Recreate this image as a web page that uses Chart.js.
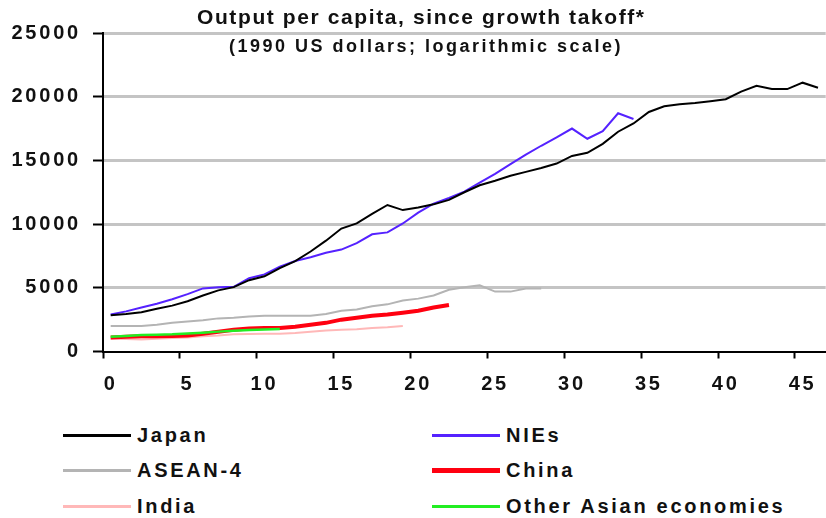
<!DOCTYPE html>
<html>
<head>
<meta charset="utf-8">
<script src="https://cdn.jsdelivr.net/npm/chart.js@4/dist/chart.umd.min.js"></script>
<style>
  html, body { margin: 0; padding: 0; background: #fff; overflow: hidden; width: 826px; height: 518px; }
  #wrap { position: absolute; left: 0; top: 0; width: 832px; height: 400px; }
  .ttl { position: absolute; white-space: nowrap; font-family: "Liberation Sans", Arial, sans-serif; font-weight: bold; color: #111; }
  #title { left: 197px; top: 5px; font-size: 21px; letter-spacing: 1.6px; line-height: 24px; }
  #subtitle { left: 229px; top: 36px; font-size: 18px; letter-spacing: 2.5px; line-height: 20px; }
  .lg { position: absolute; height: 20px; }
  .lg .sw { position: absolute; left: 0; width: 68px; }
  .lg .tx { position: absolute; left: 74px; top: 0; white-space: nowrap; font-family: "Liberation Sans", Arial, sans-serif; font-weight: bold; font-size: 20px; letter-spacing: 2.7px; line-height: 20px; color: #111; }
</style>
</head>
<body>
<div id="wrap"><canvas id="c" width="832" height="400"></canvas></div>
<div id="title" class="ttl">Output per capita, since growth takoff*</div>
<div id="subtitle" class="ttl">(1990 US dollars; logarithmic scale)</div>
<div id="legend"></div>
<script>
// Years since growth takeoff
const categories = ['0','1','2','3','4','5','6','7','8','9','10','11','12','13','14','15','16','17','18','19','20','21','22','23','24','25','26','27','28','29','30','31','32','33','34','35','36','37','38','39','40','41','42','43','44','45','46'];

// Output per capita, 1990 US dollars
const japan = [2850, 2950, 3080, 3350, 3600, 3950, 4400, 4800, 5050, 5600, 5900, 6550, 7100, 7850, 8700, 9650, 10050, 10800, 11500, 11100, 11300, 11550, 11900, 12500, 13050, 13400, 13800, 14100, 14400, 14750, 15350, 15600, 16300, 17250, 17900, 18800, 19250, 19400, 19500, 19650, 19800, 20400, 20850, 20600, 20600, 21100, 20700];
const nies = [2900, 3150, 3450, 3750, 4100, 4500, 4950, 5050, 5080, 5750, 6050, 6650, 7100, 7400, 7750, 8000, 8500, 9200, 9350, 10050, 10900, 11600, 12050, 12550, 13250, 13950, 14700, 15450, 16150, 16800, 17500, 16700, 17300, 18700, 18250];
const asean4 = [2000, 2000, 2000, 2100, 2250, 2350, 2450, 2600, 2650, 2750, 2800, 2800, 2800, 2800, 2950, 3200, 3300, 3550, 3700, 4000, 4150, 4400, 4850, 5050, 5200, 4700, 4700, 4950, 4950];
const china = [1100, 1150, 1200, 1200, 1220, 1250, 1400, 1550, 1700, 1800, 1850, 1850, 1950, 2100, 2250, 2500, 2650, 2800, 2900, 3050, 3200, 3450, 3650];
const india = [1000, 980, 950, 1000, 1050, 1100, 1200, 1250, 1350, 1380, 1400, 1400, 1450, 1550, 1650, 1700, 1750, 1850, 1900, 2000];
const otherAsian = [1150, 1220, 1300, 1320, 1350, 1420, 1480, 1560, 1620, 1680, 1730, 1770];

const seriesNames = ['Japan', 'NIEs', 'ASEAN-4', 'China', 'India', 'Other Asian economies'];
const xTickLabels = ['0','5','10','15','20','25','30','35','40','45'];
const yTicks = [0, 5000, 10000, 15000, 20000, 25000];

const styles = [
  { color: '#000000', width: 2, legendWidth: 3, order: 1 },
  { color: '#5522ff', width: 2, legendWidth: 3, order: 2 },
  { color: '#b4b4b4', width: 2, legendWidth: 3, order: 3 },
  { color: '#ff0010', width: 4, legendWidth: 5, order: 4 },
  { color: '#ffb8b8', width: 2, legendWidth: 3, order: 5 },
  { color: '#22ee22', width: 2.5, legendWidth: 3, order: 0 }
];
const seriesData = [japan, nies, asean4, china, india, otherAsian];

const spacingPlugin = {
  id: 'spacing',
  beforeLayout(chart) { chart.ctx.letterSpacing = '2.8px'; },
  beforeDraw(chart) { chart.ctx.letterSpacing = '2.8px'; }
};

const tickFont = { family: '"Liberation Sans", Arial, sans-serif', size: 20, weight: 'bold' };

const chart = new Chart(document.getElementById('c'), {
  type: 'line',
  data: {
    labels: categories,
    datasets: seriesData.map((d, i) => ({
      label: seriesNames[i],
      data: d,
      order: styles[i].order,
      borderColor: styles[i].color,
      backgroundColor: styles[i].color,
      borderWidth: styles[i].width,
      pointRadius: 0,
      tension: 0,
      fill: false
    }))
  },
  options: {
    responsive: false,
    animation: false,
    devicePixelRatio: 1,
    layout: { padding: { top: 33, left: 10, right: 0, bottom: 0 } },
    plugins: { legend: { display: false }, title: { display: false }, tooltip: { enabled: false } },
    scales: {
      x: {
        type: 'category',
        offset: true,
        afterFit(s) { s.height = 48.5; },
        grid: {
          offset: true,
          drawOnChartArea: false,
          drawTicks: true,
          tickLength: 7,
          tickWidth: 2,
          tickColor: (ctx) => (ctx.index !== undefined && ctx.index % 5 === 0) ? '#000' : 'rgba(0,0,0,0)'
        },
        border: { color: '#000', width: 2 },
        ticks: {
          autoSkip: false,
          maxRotation: 0,
          padding: 14,
          color: '#111',
          font: tickFont,
          callback(value, index) {
            const lab = categories[index];
            return xTickLabels.includes(lab) ? lab : '';
          }
        }
      },
      y: {
        min: yTicks[0],
        max: yTicks[yTicks.length - 1],
        afterFit(s) { s.width = 93; },
        afterBuildTicks(s) { s.ticks = yTicks.map(v => ({ value: v })); },
        grid: {
          color: (ctx) => (ctx.tick && ctx.tick.value === 0) ? 'rgba(0,0,0,0)' : '#c4c4c4',
          lineWidth: 3,
          tickLength: 10,
          tickColor: '#000',
          tickWidth: 2
        },
        border: { color: '#000', width: 2 },
        ticks: {
          padding: 12,
          color: '#111',
          font: tickFont,
          callback(v) { return String(v); }
        }
      }
    }
  },
  plugins: [spacingPlugin]
});

// HTML legend (two columns, row-major), built from the chart's datasets
const legendPos = [
  { left: 63, top: 425 }, { left: 432, top: 425 },
  { left: 63, top: 460 }, { left: 432, top: 460 },
  { left: 63, top: 496 }, { left: 432, top: 496 }
];
const lg = document.getElementById('legend');
chart.data.datasets.forEach((ds, i) => {
  const item = document.createElement('div');
  item.className = 'lg';
  item.style.left = legendPos[i].left + 'px';
  item.style.top = legendPos[i].top + 'px';
  const sw = document.createElement('div');
  sw.className = 'sw';
  const lw = styles[i].legendWidth;
  sw.style.height = lw + 'px';
  sw.style.top = (10 - lw / 2) + 'px';
  sw.style.background = ds.borderColor;
  const tx = document.createElement('div');
  tx.className = 'tx';
  tx.textContent = ds.label;
  item.appendChild(sw);
  item.appendChild(tx);
  lg.appendChild(item);
});
</script>
</body>
</html>
